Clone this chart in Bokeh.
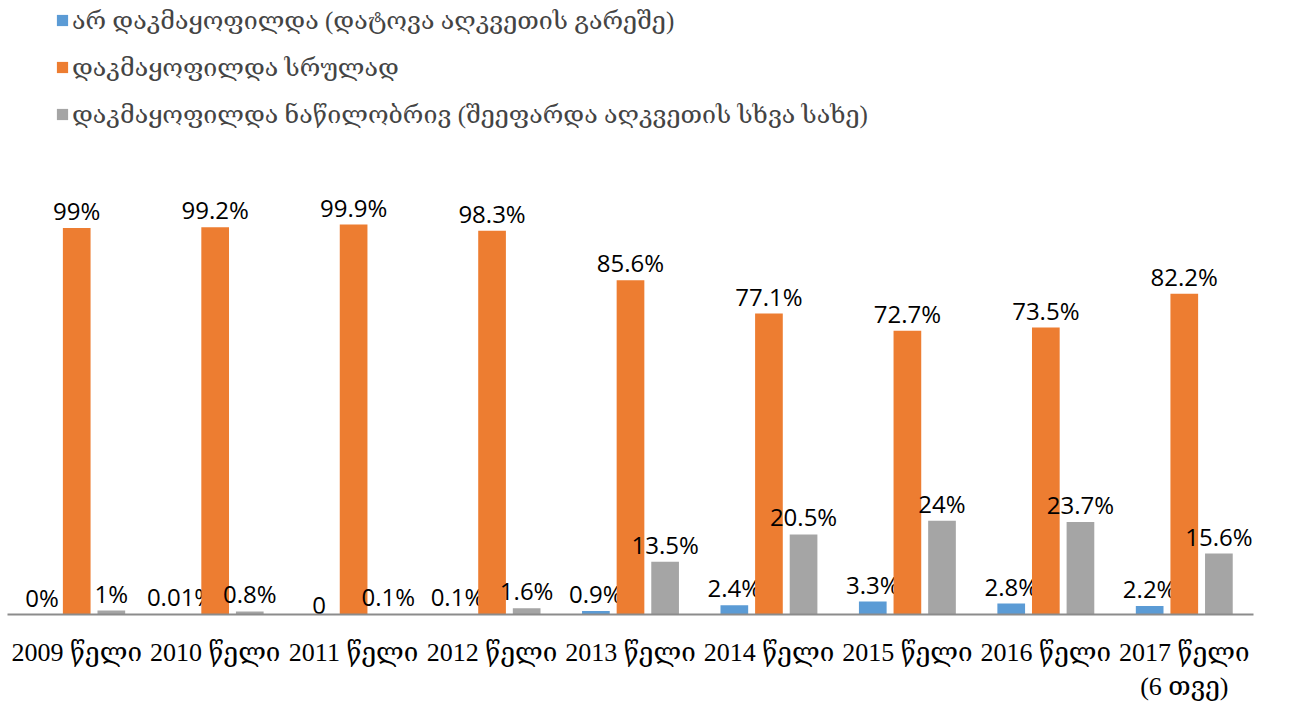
from bokeh.plotting import figure
from bokeh.models import ColumnDataSource, Legend, LegendItem, Range1d, FactorRange
from bokeh.transform import dodge
from bokeh.core.properties import value
from bokeh.embed import file_html
from bokeh.resources import INLINE

years = ["2009 წელი", "2010 წელი", "2011 წელი", "2012 წელი", "2013 წელი",
         "2014 წელი", "2015 წელი", "2016 წელი", "2017 წელი\n(6 თვე)"]
series_names = ["არ დაკმაყოფილდა (დატოვა აღკვეთის გარეშე)",
                "დაკმაყოფილდა სრულად",
                "დაკმაყოფილდა ნაწილობრივ (შეეფარდა აღკვეთის სხვა სახე)"]
not_satisfied = [0, 0.01, 0, 0.1, 0.9, 2.4, 3.3, 2.8, 2.2]
fully = [99, 99.2, 99.9, 98.3, 85.6, 77.1, 72.7, 73.5, 82.2]
partially = [1, 0.8, 0.1, 1.6, 13.5, 20.5, 24, 23.7, 15.6]
not_satisfied_labels = ["0%", "0.01%", "0", "0.1%", "0.9%", "2.4%", "3.3%", "2.8%", "2.2%"]
fully_labels = ["99%", "99.2%", "99.9%", "98.3%", "85.6%", "77.1%", "72.7%", "73.5%", "82.2%"]
partially_labels = ["1%", "0.8%", "0.1%", "1.6%", "13.5%", "20.5%", "24%", "23.7%", "15.6%"]
colors = ["#5B9BD5", "#ED7D31", "#A5A5A5"]

src = ColumnDataSource(dict(
    years=years, a=not_satisfied, b=fully, c=partially,
    la=not_satisfied_labels, lb=fully_labels, lc=partially_labels,
))

geo_font = "Liberation Serif, DejaVu Serif"
num_font = "Open Sans"

p = figure(x_range=FactorRange(*years), y_range=Range1d(0, 157.3),
           width=1286, height=704, output_backend="svg", toolbar_location=None,
           min_border_left=7, min_border_right=33, min_border_top=0, min_border_bottom=0)
p.outline_line_color = None
p.xgrid.visible = False
p.ygrid.visible = False
p.yaxis.visible = False

offs = [-0.25, 0.0, 0.25]
fields = ["a", "b", "c"]
lfields = ["la", "lb", "lc"]
renderers = []
for off, f, lf, col in zip(offs, fields, lfields, colors):
    r = p.vbar(x=dodge("years", off, range=p.x_range), top=f, width=0.2, source=src,
               fill_color=col, line_color=None)
    renderers.append(r)
    p.text(x=dodge("years", off, range=p.x_range), y=f, text=lf, source=src,
           text_align="center", text_baseline="bottom", y_offset=-1,
           text_font=value(num_font), text_font_size="24px", text_color="#000000")

xa = p.xaxis[0]
xa.axis_line_color = "#8C8C8C"
xa.axis_line_width = 2
xa.major_tick_line_color = None
xa.minor_tick_line_color = None
xa.major_label_text_font = geo_font
xa.major_label_text_font_size = "26px"
xa.major_label_text_color = "#000000"
xa.major_label_standoff = 17

legend = Legend(items=[LegendItem(label=n, renderers=[r]) for n, r in zip(series_names, renderers)],
                location=(48, 485), orientation="vertical",
                label_text_font=geo_font, label_text_font_size="25px",
                glyph_width=14, glyph_height=14, label_height=30, spacing=17,
                padding=0, margin=0, label_standoff=3,
                background_fill_alpha=0, border_line_color=None)
p.add_layout(legend)

open("out.html", "w").write(file_html(p, INLINE))
